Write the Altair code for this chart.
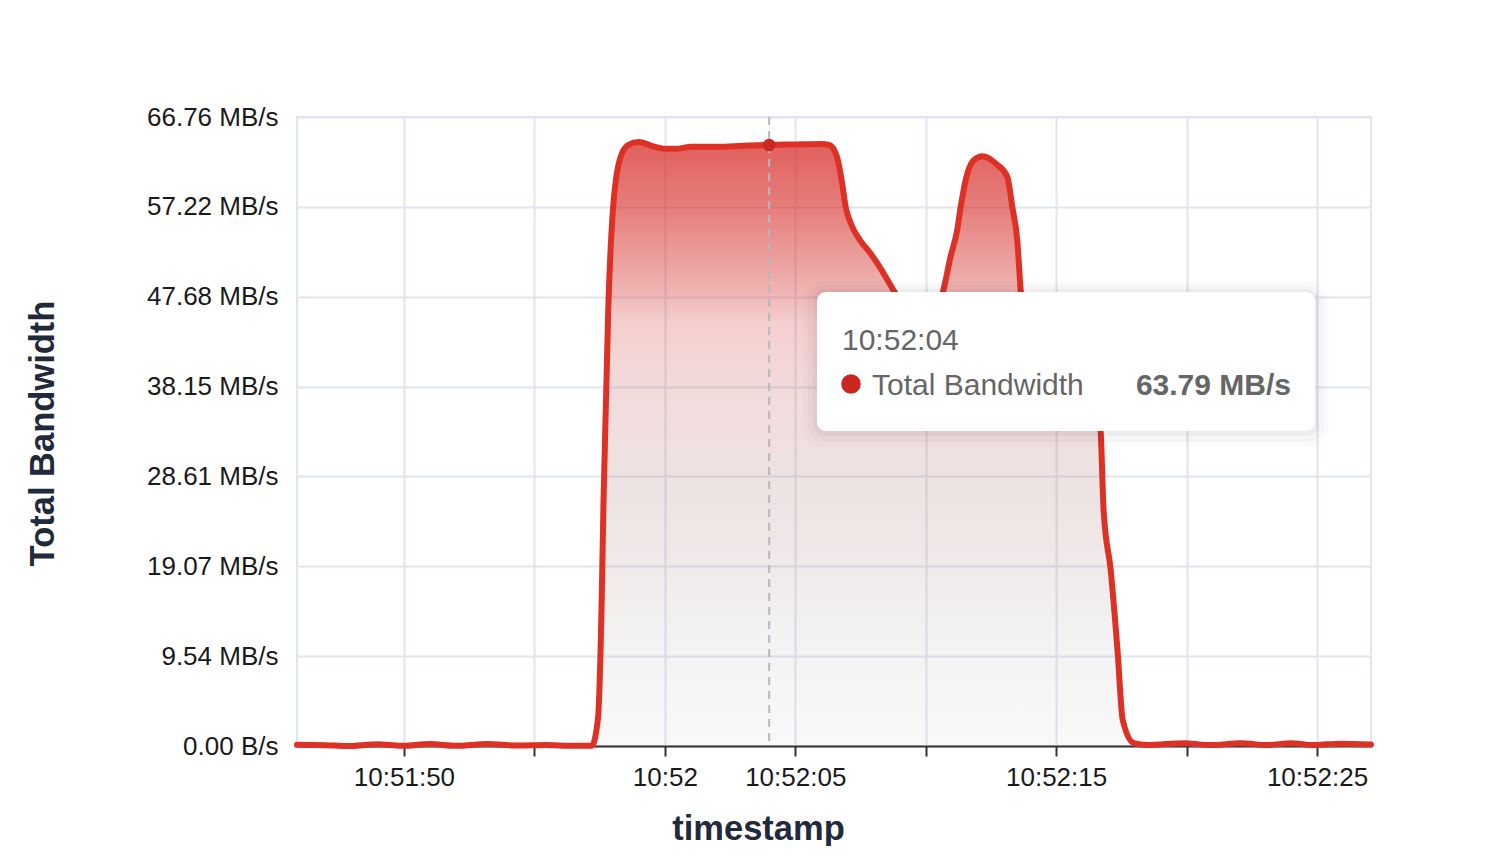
import altair as alt
import pandas as pd

DATE = "2024-01-01"
SERIES_NAME = "Total Bandwidth"

# sample times (HH:MM:SS.mmm) and bandwidth values (MB/s)
TIMES = [
    "10:51:45.900", "10:51:47.000", "10:51:47.800", "10:51:49.000", "10:51:49.900",
    "10:51:51.000", "10:51:52.000", "10:51:53.200", "10:51:54.400", "10:51:55.400",
    "10:51:56.500", "10:51:57.200", "10:51:57.440", "10:51:57.580", "10:51:57.650",
    "10:51:57.830", "10:51:58.000", "10:51:58.290", "10:51:58.600", "10:51:59.000",
    "10:51:59.500", "10:52:00.000", "10:52:00.500", "10:52:01.000", "10:52:02.000",
    "10:52:03.000", "10:52:04.000", "10:52:05.000", "10:52:06.000", "10:52:06.300",
    "10:52:06.580", "10:52:06.810", "10:52:06.920", "10:52:07.110", "10:52:07.500",
    "10:52:07.880", "10:52:08.270", "10:52:08.760", "10:52:09.200", "10:52:09.800",
    "10:52:10.300", "10:52:10.680", "10:52:10.950", "10:52:11.210", "10:52:11.340",
    "10:52:11.600", "10:52:11.850", "10:52:12.170", "10:52:12.740", "10:52:13.130",
    "10:52:13.320", "10:52:13.510", "10:52:13.640", "10:52:14.000", "10:52:14.500",
    "10:52:15.200", "10:52:16.000", "10:52:16.550", "10:52:16.710", "10:52:16.820",
    "10:52:17.090", "10:52:17.360", "10:52:17.550", "10:52:17.980", "10:52:18.500",
    "10:52:19.900", "10:52:20.900", "10:52:22.100", "10:52:23.100", "10:52:24.000",
    "10:52:24.900", "10:52:25.900", "10:52:27.070",
]
VALUES = [
    0.12, 0.08, 0.0, 0.18, 0.02,
    0.2, 0.02, 0.2, 0.05, 0.1,
    0.03, 0.03, 3.0, 15.5, 26.0,
    46.3, 56.5, 62.4, 63.8, 64.1,
    63.7, 63.4, 63.4, 63.6, 63.6,
    63.7, 63.79, 63.85, 63.9, 63.8,
    62.7, 59.5, 57.4, 55.6, 53.6,
    52.3, 50.7, 48.4, 46.5, 45.0,
    45.6, 48.4, 51.9, 54.8, 57.2,
    60.8, 62.2, 62.6, 61.7, 60.4,
    57.2, 53.7, 48.4, 42.0, 39.5,
    38.5, 38.0, 37.0, 33.2, 25.0,
    18.7, 9.9, 2.8, 0.3, 0.1,
    0.3, 0.1, 0.3, 0.1, 0.3,
    0.1, 0.25, 0.15,
]

X_TICKS = ["10:51:50", "10:51:55", "10:52:00", "10:52:05",
           "10:52:10", "10:52:15", "10:52:20", "10:52:25"]
X_HIDDEN_SECONDS = ["55", "10", "20"]
X_DOMAIN = ["10:51:45.900", "10:52:27.070"]
Y_TICKS = [0, 9.5367, 19.0735, 28.6102, 38.1470, 47.6837, 57.2205, 66.7572]
HOVER_TIME = "10:52:04.000"


def iso(t):
    return f"{DATE}T{t}"


def dt(t):
    hms, _, ms = t.partition(".")
    h, m, s = (int(p) for p in hms.split(":"))
    kw = dict(year=2024, month=1, date=1, hours=h, minutes=m, seconds=s)
    if ms:
        kw["milliseconds"] = int(ms)
    return alt.DateTime(**kw)


df = pd.DataFrame({"time": [iso(t) for t in TIMES], "value": VALUES})
hv = VALUES[TIMES.index(HOVER_TIME)]
hover = pd.DataFrame({
    "time": [iso(HOVER_TIME)],
    "value": [hv],
    "tlabel": [HOVER_TIME.split(".")[0]],
    "name": [SERIES_NAME],
    "vlabel": [f"{hv:.2f} MB/s"],
})

LINE_RED = "#dd3126"
GRID = "#E0E6F1"
FONT = "Liberation Sans"

x_enc = alt.X(
    "time:T",
    scale=alt.Scale(domain=[dt(X_DOMAIN[0]), dt(X_DOMAIN[1])], nice=False),
    axis=alt.Axis(
        values=[dt(t) for t in X_TICKS],
        labelExpr=(
            "timeFormat(datum.value, '%S') == '00' ? timeFormat(datum.value, '%H:%M') : "
            "(indexof(" + str(X_HIDDEN_SECONDS) + ", timeFormat(datum.value, '%S')) >= 0 ? '' : "
            "timeFormat(datum.value, '%H:%M:%S'))"
        ),
        labelOverlap=False,
        labelFlush=False,
        labelFontSize=26,
        labelColor="#1a1a1a",
        labelPadding=8,
        tickSize=10,
        tickColor="#333333",
        tickWidth=2,
        domainColor="#333333",
        domainWidth=2,
        grid=True,
        gridColor=GRID,
        gridWidth=2,
        title="timestamp",
        titleFontSize=34.5,
        titleFontWeight="bold",
        titleColor="#1f2a3c",
        titleX=461,
        titleY=93,
        titleAlign="center",
        titleBaseline="alphabetic",
    ),
)

y_enc = alt.Y(
    "value:Q",
    scale=alt.Scale(domain=[0, Y_TICKS[-1]], nice=False, zero=True),
    axis=alt.Axis(
        values=Y_TICKS,
        labelExpr="datum.value == 0 ? '0.00 B/s' : format(datum.value, '.2f') + ' MB/s'",
        labelFontSize=26,
        labelColor="#1a1a1a",
        labelPadding=19,
        ticks=False,
        tickSize=0,
        domain=False,
        grid=True,
        gridColor=GRID,
        gridWidth=2,
        title=SERIES_NAME,
        titleFontSize=34.5,
        titleFontWeight="bold",
        titleColor="#1f2a3c",
        titleX=-254,
        titleY=316,
        titleAngle=270,
        titleAlign="center",
        titleBaseline="middle",
    ),
)

gradient = alt.Gradient(
    gradient="linear",
    x1=1, x2=1, y1=0, y2=1,
    stops=[
        alt.GradientStop(color="rgba(215,45,40,0.76)", offset=0),
        alt.GradientStop(color="rgba(215,45,40,0.61)", offset=0.11),
        alt.GradientStop(color="rgba(210,45,40,0.36)", offset=0.245),
        alt.GradientStop(color="rgba(210,45,45,0.23)", offset=0.3),
        alt.GradientStop(color="rgba(190,80,80,0.2)", offset=0.43),
        alt.GradientStop(color="rgba(170,110,110,0.2)", offset=0.56),
        alt.GradientStop(color="rgba(155,105,105,0.15)", offset=0.69),
        alt.GradientStop(color="rgba(145,135,140,0.1)", offset=0.84),
        alt.GradientStop(color="rgba(135,135,135,0.05)", offset=1),
    ],
)

area = alt.Chart(df).mark_area(interpolate="monotone", color=gradient).encode(x=x_enc, y=y_enc)
line = alt.Chart(df).mark_line(interpolate="monotone", color=LINE_RED, strokeWidth=6,
                               strokeJoin="round", strokeCap="round").encode(
    x="time:T", y="value:Q")

rule = alt.Chart(hover).mark_rule(color="#b4b8c4", strokeWidth=2, strokeDash=[8, 6]).encode(x="time:T")
dot = alt.Chart(hover).mark_point(filled=True, shape="circle", size=160, color="#c9271f", opacity=1).encode(
    x="time:T", y="value:Q")

# tooltip box
shadow3 = alt.Chart(hover).mark_rect(color="rgba(0,0,0,0.015)", cornerRadius=20).encode(
    x=alt.value(506), x2=alt.value(1032), y=alt.value(164), y2=alt.value(330))
shadow2 = alt.Chart(hover).mark_rect(color="rgba(0,0,0,0.02)", cornerRadius=16).encode(
    x=alt.value(511), x2=alt.value(1027), y=alt.value(168), y2=alt.value(325))
shadow1 = alt.Chart(hover).mark_rect(color="rgba(0,0,0,0.035)", cornerRadius=12).encode(
    x=alt.value(516), x2=alt.value(1022), y=alt.value(172), y2=alt.value(319))
box = alt.Chart(hover).mark_rect(color="#ffffff", cornerRadius=9).encode(
    x=alt.value(520), x2=alt.value(1018), y=alt.value(175), y2=alt.value(314))
t_time = alt.Chart(hover).mark_text(align="left", baseline="alphabetic", fontSize=30,
                                    color="#666666", font=FONT).encode(
    x=alt.value(545), y=alt.value(233), text="tlabel:N")
t_dot = alt.Chart(hover).mark_point(filled=True, shape="circle", size=380, color="#c9271f", opacity=1).encode(
    x=alt.value(554), y=alt.value(267))
t_name = alt.Chart(hover).mark_text(align="left", baseline="alphabetic", fontSize=30,
                                    color="#666666", font=FONT).encode(
    x=alt.value(575), y=alt.value(278), text="name:N")
t_val = alt.Chart(hover).mark_text(align="right", baseline="alphabetic", fontSize=30, fontWeight="bold",
                                   color="#666666", font=FONT).encode(
    x=alt.value(994), y=alt.value(278), text="vlabel:N")

chart = alt.layer(
    area, line, rule, dot, shadow3, shadow2, shadow1, box, t_time, t_dot, t_name, t_val
).properties(
    width=1074,
    height=629,
    autosize=alt.AutoSizeParams(type="none"),
    padding={"left": 289, "top": 109, "right": 100, "bottom": 100},
    background="#ffffff",
).configure(
    font=FONT,
).configure_view(
    stroke=GRID,
    strokeWidth=2,
)

chart.save("out.html", embed_options={"renderer": "svg", "actions": False})
